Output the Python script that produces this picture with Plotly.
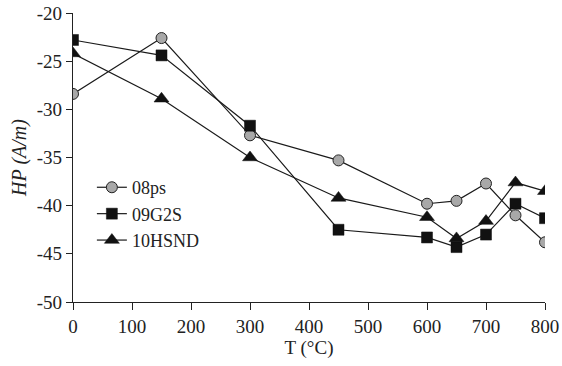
import plotly.graph_objects as go

temps = [0, 150, 300, 450, 600, 650, 700, 750, 800]
hp_08ps = [-28.4, -22.6, -32.7, -35.3, -39.8, -39.5, -37.7, -41.0, -43.8]
hp_09g2s = [-22.8, -24.4, -31.7, -42.5, -43.3, -44.3, -43.0, -39.8, -41.3]
hp_10hsnd = [-24.2, -28.9, -35.0, -39.2, -41.2, -43.4, -41.6, -37.6, -38.5]
x_ticks = [0, 100, 200, 300, 400, 500, 600, 700, 800]
y_ticks = [-50, -45, -40, -35, -30, -25, -20]
y_tick_text = ["-50", "-45", "-40", "-35", "-30", "-25", "-20"]

FONT = "Liberation Serif"
fig = go.Figure()
fig.add_trace(go.Scatter(x=temps, y=hp_08ps, name="08ps", mode="lines+markers",
                         line=dict(color="#1a1a1a", width=1.2),
                         marker=dict(symbol="circle", size=11, color="#a8a8a8",
                                     line=dict(color="#222", width=1))))
fig.add_trace(go.Scatter(x=temps, y=hp_09g2s, name="09G2S", mode="lines+markers",
                         line=dict(color="#1a1a1a", width=1.2),
                         marker=dict(symbol="square", size=11, color="#111",
                                     line=dict(color="#111", width=0.5))))
fig.add_trace(go.Scatter(x=temps, y=hp_10hsnd, name="10HSND", mode="lines+markers",
                         line=dict(color="#1a1a1a", width=1.2),
                         marker=dict(symbol="triangle-up", size=13, color="#111",
                                     line=dict(color="#111", width=0.5))))

fig.update_layout(
    width=562, height=366,
    margin=dict(l=73, r=17, t=13, b=64),
    paper_bgcolor="white", plot_bgcolor="white",
    font=dict(family=FONT, size=19, color="#222"),
    showlegend=True,
    legend=dict(x=0.04, y=0.46, xanchor="left", yanchor="top",
                bgcolor="rgba(0,0,0,0)", font=dict(family=FONT, size=18),
                tracegroupgap=0, itemwidth=30),
    xaxis=dict(range=[0, 800], tickvals=x_ticks, showgrid=False, zeroline=False,
               showline=True, linecolor="#222", linewidth=1.2, automargin=False,
               ticks="outside", ticklen=7, tickcolor="#222", ticklabeloverflow="allow",
               title=dict(text="T (°C)", font=dict(family=FONT, size=19), standoff=4)),
    yaxis=dict(range=[-50, -20], tickvals=y_ticks, ticktext=y_tick_text,
               showgrid=False, zeroline=False, automargin=False,
               showline=True, linecolor="#222", linewidth=1.2, ticklabeloverflow="allow",
               ticks="outside", ticklen=6, tickcolor="#222",
               title=dict(text="<i>HP (A/m)</i>", font=dict(family=FONT, size=20), standoff=4)),
)
# remove the browser's default 8px body margin so the figure sits at the page origin
fig.write_html("out.html", config={"displayModeBar": False},
               post_script="document.body.style.margin='0';")
